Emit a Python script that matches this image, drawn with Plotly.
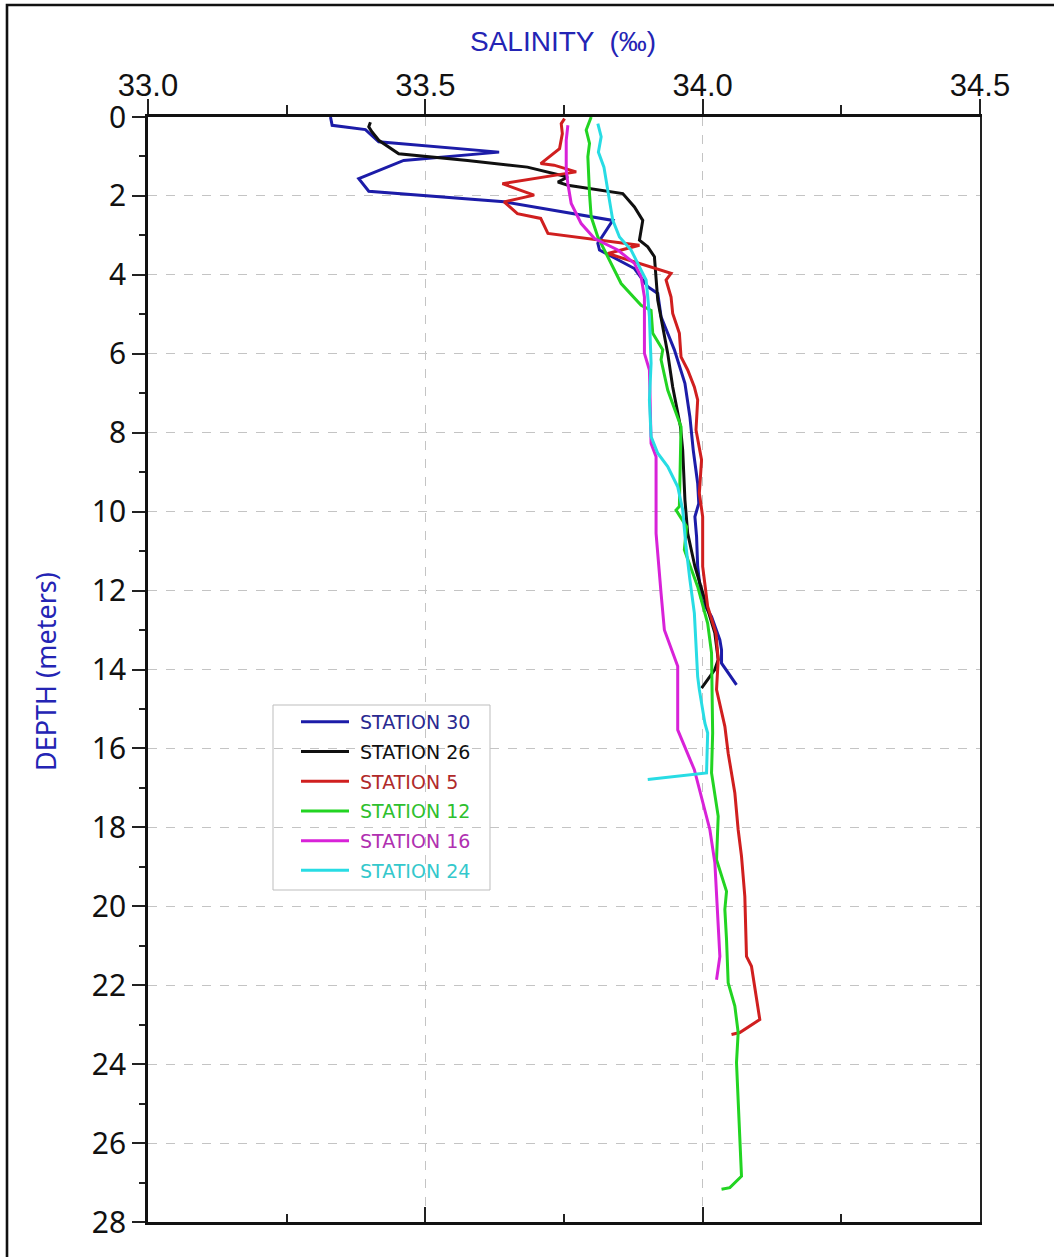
import plotly.graph_objects as go

# ---------------- data ----------------
st30_depth = [0, 0.21, 0.32, 0.63, 0.89, 1.10, 1.56, 1.88, 2.15, 2.62, 3.2, 3.37, 3.84, 4.3, 4.47, 5.06,
              5.9, 6.75, 7.6, 8.44, 9.28, 9.79, 10.13, 10.63, 11.39, 12.24, 12.66, 13.25, 13.5, 13.84, 14.39]
st30_sal = [33.329, 33.332, 33.392, 33.416, 33.633, 33.461, 33.380, 33.398, 33.642, 33.838, 33.811, 33.814,
            33.877, 33.901, 33.919, 33.925, 33.949, 33.968, 33.977, 33.983, 33.991, 33.993, 33.986, 33.989,
            33.991, 33.998, 34.016, 34.031, 34.034, 34.034, 34.061]

st26_depth = [0.13, 0.25, 0.38, 0.59, 0.93, 1.1, 1.27, 1.52, 1.65, 1.73, 1.94, 2.28, 2.62, 3.12, 3.29, 3.54,
              4.64, 5.32, 5.99, 6.84, 7.85, 8.44, 9.7, 10.55, 11.39, 12.24, 13.08, 13.75, 14.0, 14.47]
st26_sal = [33.401, 33.398, 33.404, 33.416, 33.452, 33.576, 33.684, 33.757, 33.739, 33.757, 33.856, 33.877,
            33.892, 33.886, 33.901, 33.913, 33.919, 33.928, 33.937, 33.946, 33.960, 33.964, 33.968, 33.973,
            33.986, 34.004, 34.022, 34.028, 34.022, 33.998]

st5_depth = [0.04, 0.17, 0.42, 0.8, 1.18, 1.22, 1.39, 1.48, 1.69, 1.86, 1.98, 2.15, 2.45, 2.57, 2.95, 3.25,
             3.46, 3.96, 4.13, 4.56, 4.98, 5.48, 6.08, 6.41, 6.84, 7.17, 7.93, 8.69, 9.53, 10.13, 10.72,
             11.39, 12.4, 13.08, 13.75, 14.51, 15.44, 16.12, 17.13, 18.06, 18.73, 19.75, 21.27, 21.52,
             22.87, 23.2, 23.25]
st5_sal = [33.751, 33.745, 33.747, 33.742, 33.708, 33.732, 33.772, 33.732, 33.639, 33.672, 33.696, 33.642,
           33.666, 33.708, 33.721, 33.886, 33.829, 33.943, 33.934, 33.943, 33.946, 33.958, 33.961, 33.973,
           33.985, 33.991, 33.988, 33.998, 33.994, 34.000, 34.000, 34.000, 34.009, 34.024, 34.028, 34.025,
           34.040, 34.046, 34.058, 34.064, 34.070, 34.076, 34.079, 34.088, 34.103, 34.067, 34.052]

st12_depth = [0, 0.33, 0.67, 1.01, 1.94, 2.53, 3.04, 3.54, 4.05, 4.22, 4.77, 4.9, 5.48, 5.9, 6.15, 6.92,
              7.85, 9.87, 9.96, 10.38, 10.97, 11.9, 12.83, 13.58, 15.61, 16.62, 17.72, 18.82, 19.62, 20.08,
              20.84, 21.94, 22.53, 23.2, 23.96, 24.89, 25.65, 26.84, 27.13, 27.17]
st12_sal = [33.799, 33.790, 33.796, 33.793, 33.796, 33.799, 33.811, 33.829, 33.847, 33.853, 33.889, 33.907,
            33.910, 33.928, 33.925, 33.937, 33.961, 33.958, 33.952, 33.971, 33.967, 33.991, 34.009, 34.016,
            34.018, 34.016, 34.028, 34.025, 34.043, 34.040, 34.043, 34.046, 34.058, 34.064, 34.061, 34.064,
            34.067, 34.070, 34.049, 34.034]

st16_depth = [0.21, 0.59, 1.35, 1.69, 2.19, 2.7, 3.08, 3.37, 3.71, 4.05, 4.56, 5.99, 6.41, 8.27, 8.61,
              10.55, 12.07, 13.0, 13.92, 15.53, 16.54, 17.55, 18.06, 18.9, 20.59, 21.27, 21.86]
st16_sal = [33.757, 33.754, 33.754, 33.757, 33.763, 33.781, 33.805, 33.847, 33.877, 33.889, 33.895, 33.895,
            33.904, 33.907, 33.916, 33.916, 33.925, 33.931, 33.955, 33.955, 33.985, 34.004, 34.013, 34.022,
            34.028, 34.031, 34.025]

st24_depth = [0.17, 0.5, 0.89, 1.27, 1.86, 2.62, 3.04, 3.37, 3.88, 4.13, 4.56, 5.06, 6.24, 7.17, 8.1, 8.52,
              8.86, 9.37, 9.96, 10.89, 11.73, 12.57, 14.18, 14.51, 15.36, 15.61, 16.62, 16.79]
st24_sal = [33.811, 33.817, 33.812, 33.822, 33.829, 33.838, 33.850, 33.871, 33.889, 33.898, 33.901, 33.904,
            33.907, 33.904, 33.907, 33.919, 33.937, 33.955, 33.964, 33.970, 33.977, 33.985, 33.991, 33.994,
            34.004, 34.009, 34.007, 33.901]

station_names = ["STATION 30", "STATION 26", "STATION 5", "STATION 12", "STATION 16", "STATION 24"]
x_ticks = [33.0, 33.5, 34.0, 34.5]
x_tick_labels = ["33.0", "33.5", "34.0", "34.5"]
y_ticks = list(range(0, 29, 2))

# ---------------- styles ----------------
line_colors = ["#1c1ca8", "#101010", "#d01f1f", "#22d422", "#d822d8", "#28dce4"]
text_colors = ["#2a2a90", "#111111", "#b02a2a", "#2ec02e", "#b030b0", "#34c8cc"]
series = [(st30_sal, st30_depth), (st26_sal, st26_depth), (st5_sal, st5_depth),
          (st12_sal, st12_depth), (st16_sal, st16_depth), (st24_sal, st24_depth)]

fig = go.Figure()
for i, (sal, dep) in enumerate(series):
    fig.add_trace(go.Scatter(
        x=sal, y=dep, mode="lines",
        line=dict(color=line_colors[i], width=3),
        name=f'<span style="color:{text_colors[i]}">\u00a0{station_names[i]}</span>',
        legendgroup=f"g{i}",
    ))

# empty helper traces so the bottom / right frame axes get drawn
fig.add_trace(go.Scatter(x=[], y=[], xaxis="x2", yaxis="y", showlegend=False, hoverinfo="skip"))
fig.add_trace(go.Scatter(x=[], y=[], xaxis="x", yaxis="y2", showlegend=False, hoverinfo="skip"))

W, H = 1054, 1257
L, R, T, B = 148, 74, 117, 35
pw, ph = W - L - R, H - T - B


def px_x(p):
    return (p - L) / pw


def px_y(p):
    return (H - B - p) / ph


fig.update_layout(
    width=W, height=H, autosize=False,
    margin=dict(l=L, r=R, t=T, b=B, pad=0),
    paper_bgcolor="white", plot_bgcolor="white",
    showlegend=True,
    legend=dict(
        x=px_x(296), y=px_y(703), xanchor="left", yanchor="top",
        bgcolor="rgba(0,0,0,0)", borderwidth=0,
        font=dict(family="DejaVu Sans", size=19, color="#111111"),
        tracegroupgap=2, itemwidth=48,
    ),
    xaxis=dict(
        range=[33.0, 34.5], side="top", anchor="y",
        tickmode="array", tickvals=x_ticks, ticktext=x_tick_labels,
        ticks="outside", ticklen=15, tickwidth=1.5, tickcolor="#222",
        ticklabelstandoff=-9,
        tickfont=dict(family="Liberation Sans, Arial", size=31, color="#111"),
        minor=dict(dtick=0.25, tick0=33.0, ticks="outside", ticklen=9, tickwidth=1.5, tickcolor="#222",
                   showgrid=False),
        showline=True, linewidth=2.6, linecolor="#111",
        showgrid=True, gridcolor="#c4c4c4", gridwidth=1, griddash="dash",
        zeroline=False, fixedrange=True,
    ),
    xaxis2=dict(
        range=[33.0, 34.5], side="bottom", anchor="y", overlaying="x",
        tickmode="array", tickvals=x_ticks, showticklabels=False,
        ticks="inside", ticklen=15, tickwidth=1.5, tickcolor="#222",
        minor=dict(dtick=0.25, tick0=33.0, ticks="inside", ticklen=8, tickwidth=1.5, tickcolor="#222",
                   showgrid=False),
        showline=True, linewidth=2.6, linecolor="#111",
        showgrid=False, zeroline=False, fixedrange=True,
    ),
    yaxis=dict(
        range=[28, 0], anchor="x",
        tickmode="array", tickvals=y_ticks,
        ticks="outside", ticklen=13, tickwidth=1.5, tickcolor="#222",
        ticklabelstandoff=0,
        tickfont=dict(family="Noto Sans", size=30, color="#111"),
        minor=dict(dtick=1, tick0=0, ticks="outside", ticklen=6, tickwidth=1.5, tickcolor="#222",
                   showgrid=False),
        showline=True, linewidth=2.6, linecolor="#111",
        showgrid=True, gridcolor="#c4c4c4", gridwidth=1, griddash="dash",
        zeroline=False, fixedrange=True,
    ),
    yaxis2=dict(
        range=[28, 0], side="right", anchor="x", overlaying="y",
        showticklabels=False, ticks="", showgrid=False, zeroline=False,
        showline=True, linewidth=1.5, linecolor="#222", fixedrange=True,
    ),
    annotations=[
        dict(text="SALINITY  (‰)", xref="paper", yref="paper",
             x=px_x(563), y=px_y(41), xanchor="center", yanchor="middle", showarrow=False,
             font=dict(family="Liberation Sans, Arial", size=28, color="#2424b4")),
        dict(text="DEPTH (meters)", xref="paper", yref="paper", textangle=-90,
             x=px_x(45), y=px_y(672), xanchor="center", yanchor="middle", showarrow=False,
             font=dict(family="Noto Sans", size=27, color="#2424b4")),
    ],
    shapes=[
        dict(type="rect", xref="paper", yref="paper",
             x0=px_x(273), x1=px_x(490), y0=px_y(890), y1=px_y(705),
             line=dict(color="#bdbdbd", width=1), fillcolor="white", layer="below"),
        dict(type="rect", xref="paper", yref="paper",
             x0=px_x(7), x1=px_x(1062), y0=px_y(1275), y1=px_y(5),
             line=dict(color="#111", width=2.6), fillcolor="rgba(0,0,0,0)", layer="above"),
    ],
)

fig.write_html("out.html")
